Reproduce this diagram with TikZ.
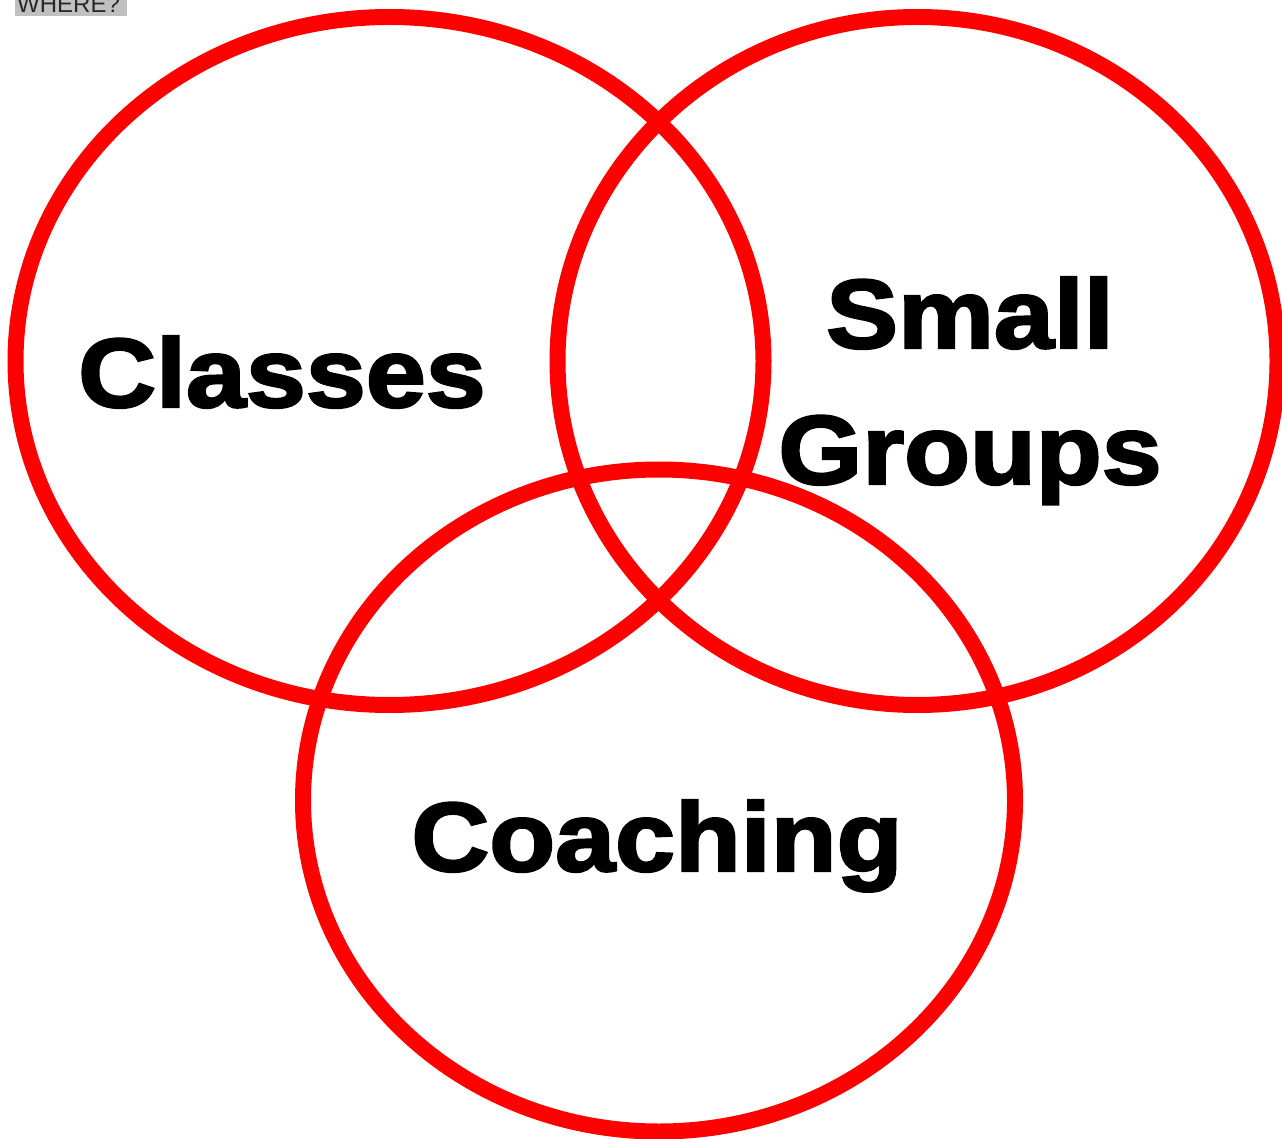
\documentclass[tikz,border=0pt]{standalone}
\usepackage{fontspec}
\setmainfont{Liberation Sans}
\newfontfamily\heavy[FakeBold=2.5,FakeStretch=1.1]{Liberation Sans}
\definecolor{ringred}{RGB}{255,0,0}
\definecolor{tagbg}{RGB}{192,192,192}
\definecolor{tagfg}{RGB}{40,40,40}
\tikzset{
  ring/.style={draw=ringred,line width=16pt},
  bigword/.style={font=\heavy\bfseries\fontsize{98}{98}\selectfont,text=black,inner sep=0pt,anchor=base},
}
\begin{document}
\begin{tikzpicture}[x=1pt,y=-1pt]
\useasboundingbox (0,0) rectangle (1282,1139);
\clip (0,0) rectangle (1282,1139);
\fill[white] (0,0) rectangle (1282,1139);
% tag
\fill[tagbg] (15,-10) rectangle (127,16);
\node[font=\fontsize{24}{24}\selectfont,text=tagfg,inner sep=0pt,anchor=base west] (tag) at (17,13) {WHERE?};
% rings
\draw[ring] (389.5,361) ellipse [x radius=374, y radius=344];
\draw[ring] (917.5,361) ellipse [x radius=360, y radius=344];
\draw[ring] (659,800.5) ellipse [x radius=356, y radius=331];
% labels
\node[bigword] (classes) at (282,407) {Classes};
\node[bigword] (small) at (970,348) {Small};
\node[bigword] (groups) at (970,484) {Groups};
\node[bigword] (coaching) at (657,871) {Coaching};
\end{tikzpicture}
\end{document}
